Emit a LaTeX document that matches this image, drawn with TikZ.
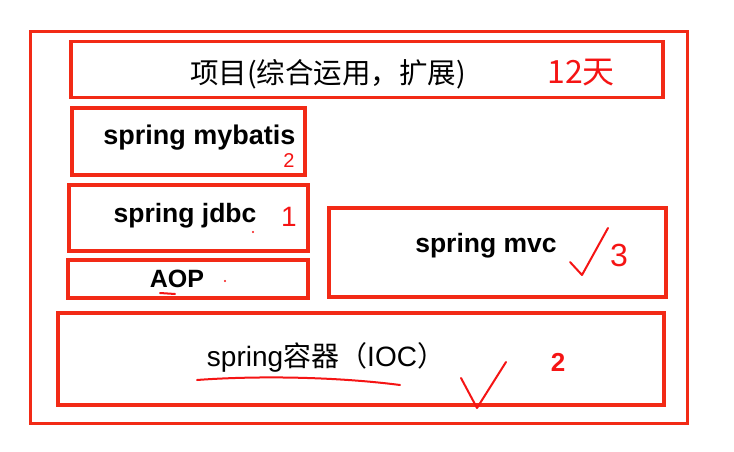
\documentclass[tikz,border=0pt]{standalone}
\usepackage{fontspec}
\setmainfont{Liberation Sans}
\newfontfamily\cjk{Noto Sans CJK SC}
\definecolor{boxred}{RGB}{242,42,22}
\definecolor{penred}{RGB}{245,20,20}
\begin{document}
\begin{tikzpicture}[x=1pt,y=-1pt,
  box/.style={draw=boxred,line width=3.2pt,rectangle,inner sep=0pt},
  lbl/.style={inner sep=0pt,text=black},
  pen/.style={inner sep=0pt,text=penred},
  stroke/.style={draw=penred,line width=2pt,line cap=round,line join=round}]
\useasboundingbox[fill=white] (0,0) rectangle (734,452);
% boxes
\node[box,minimum width=657pt,minimum height=392pt] (outer) at (359,227.5) {};
\node[box,minimum width=592pt,minimum height=56pt] (proj) at (367,69.5) {};
\node[box,minimum width=233pt,minimum height=67pt] (mybatis) at (188.5,141.5) {};
\node[box,minimum width=239pt,minimum height=66pt] (jdbc) at (188.5,218) {};
\node[box,minimum width=240pt,minimum height=38pt] (aop) at (188,279) {};
\node[box,minimum width=337pt,minimum height=89pt] (mvc) at (497.5,252.5) {};
\node[box,minimum width=606pt,minimum height=92pt] (ioc) at (361,359) {};
% labels
\node[lbl] (tproj) at (328,74) {\cjk\fontsize{28.5}{32}\selectfont 项目(综合运用，扩展)};
\node[lbl] (tmyb) at (199.5,138) {\bfseries\fontsize{27}{30}\selectfont spring mybatis};
\node[lbl] (tjdbc) at (185,216) {\bfseries\fontsize{26.5}{30}\selectfont spring jdbc};
\node[lbl] (taop) at (177,279) {\bfseries\fontsize{25}{30}\selectfont AOP};
\node[lbl] (tmvc) at (486,246) {\bfseries\fontsize{26.5}{30}\selectfont spring mvc};
\node[lbl] (tioc) at (326,357) {\fontsize{28}{30}\selectfont spring{\cjk 容器（}IOC{\cjk ）}};
% handwritten annotations
\node[pen] (h12) at (581,73) {\cjk\fontsize{32}{34}\selectfont 12天};
\node[pen] (h2a) at (289,161) {\fontsize{20}{22}\selectfont 2};
\node[pen] (h1) at (289,217) {\fontsize{28}{30}\selectfont 1};
\node[pen] (h3) at (619,255) {\fontsize{32}{34}\selectfont 3};
\node[pen] (h2b) at (558,362) {\bfseries\fontsize{26}{28}\selectfont 2};
\fill[penred] (253,232) circle (1.2pt);
\fill[penred] (225,281) circle (1.2pt);
\draw[stroke] (160,293) -- (175,294);
\draw[stroke] (570,262) -- (582,275) -- (608,228);
\draw[stroke] (197,380) .. controls (250,376) and (330,376) .. (400,385);
\draw[stroke] (461,378) -- (477,408) -- (506,362);
\end{tikzpicture}
\end{document}
